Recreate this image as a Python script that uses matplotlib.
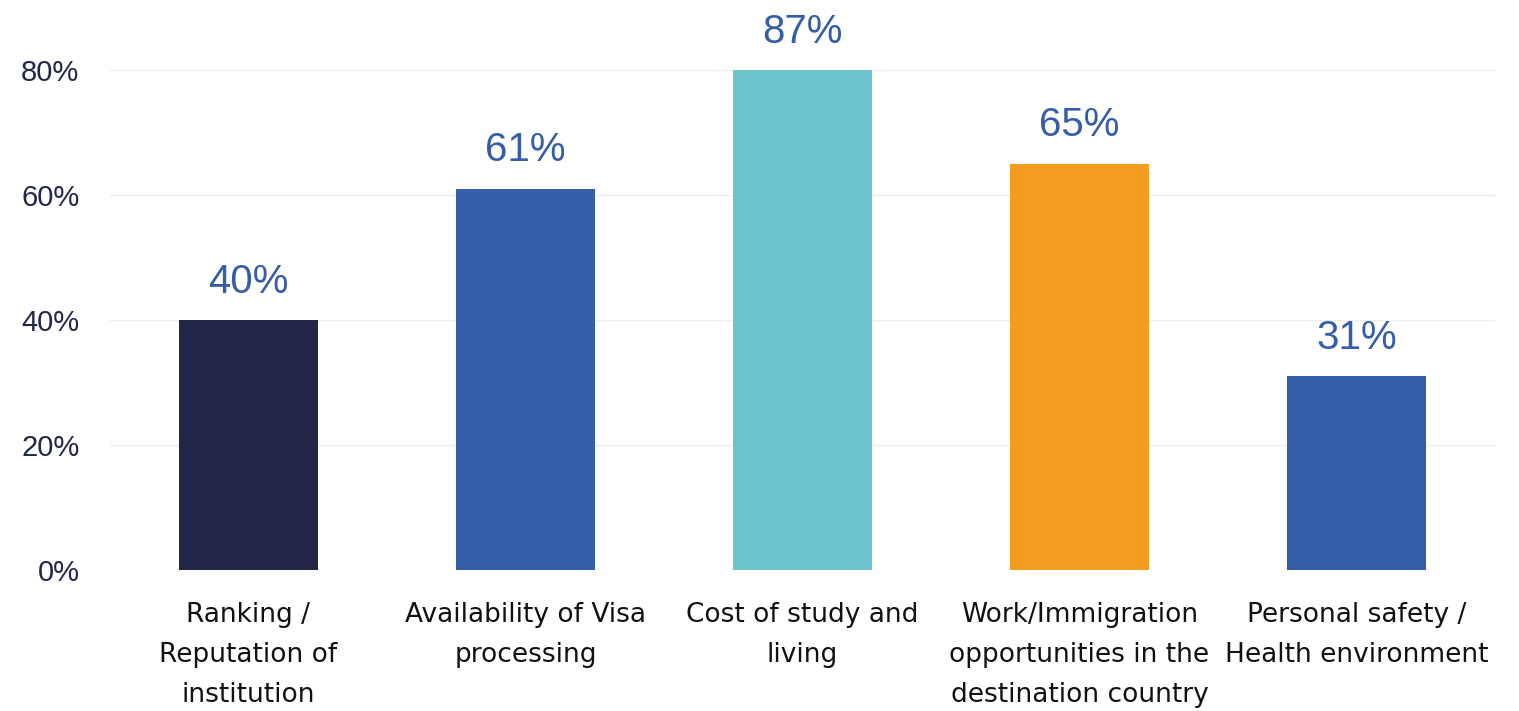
import matplotlib.pyplot as plt

categories = ['Ranking /\nReputation of\ninstitution',
              'Availability of Visa\nprocessing',
              'Cost of study and\nliving',
              'Work/Immigration\nopportunities in the\ndestination country',
              'Personal safety /\nHealth environment']
values = [40, 61, 87, 65, 31]
colors = ['#21264A', '#355DA8', '#6EC4CE', '#F39C20', '#355DA8']
yticks = [0, 20, 40, 60, 80]

fig = plt.figure(figsize=(15.19, 7.11), dpi=100)
ax = fig.add_axes([110/1519, 1-570/711, 1385/1519, 500/711])

x = range(len(values))
ax.bar(x, values, width=0.5, color=colors, zorder=2)
ax.set_xlim(-0.5, len(values)-0.5)
ax.set_ylim(0, 80)

# labels sit above the bar, or at the top edge when the bar is cut off
for i, v in enumerate(values):
    ax.annotate(f'{v}%', (i, min(v, 80)), xytext=(0, 14), textcoords='offset points',
                ha='center', va='bottom', fontsize=29, color='#365DA8',
                family='Liberation Sans')

ax.set_yticks(yticks)
ax.set_yticklabels([f'{t}%' for t in yticks], fontsize=21, color='#21264A',
                   family='Liberation Sans')
ax.set_xticks(list(x))
ax.set_xticklabels(categories, fontsize=19, color='#111111', family='DejaVu Sans',
                   linespacing=1.7, va='top')
ax.tick_params(axis='both', length=0)
ax.tick_params(axis='y', pad=22)
ax.tick_params(axis='x', pad=23)
ax.grid(axis='y', color='#EEEEEE', linewidth=1, zorder=0)
for s in ax.spines.values():
    s.set_visible(False)

fig.savefig('out.png', dpi=100)
